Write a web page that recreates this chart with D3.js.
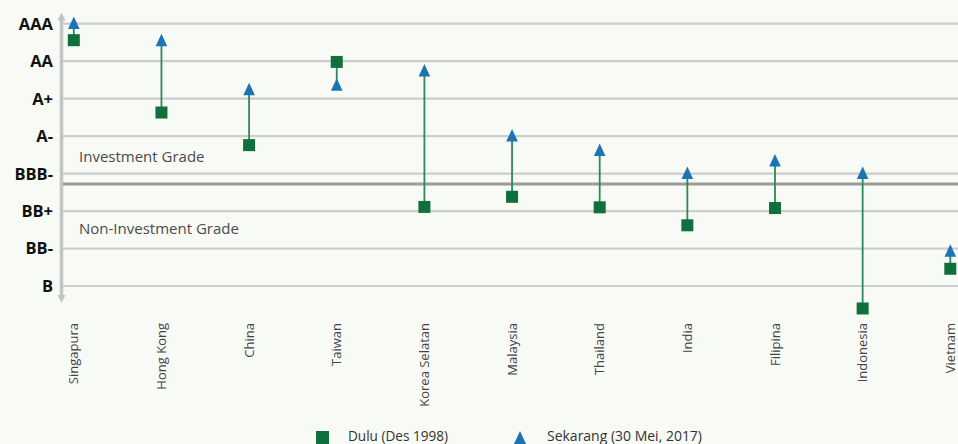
<!DOCTYPE html>
<html>
<head>
<meta charset="utf-8">
<script src="https://cdn.jsdelivr.net/npm/d3@7"></script>
<style>
  html, body { margin: 0; padding: 0; background: #f8faf6; }
  svg { display: block; }
</style>
</head>
<body>
<svg id="chart" width="958" height="444"></svg>
<script>
// ---- data ----
const countries = ["Singapura","Hong Kong","China","Taiwan","Korea Selatan","Malaysia","Thailand","India","Filipina","Indonesia","Vietnam"];
// rating position: 0 = AAA ... 7 = B
const dulu     = [0.44, 2.37, 3.24, 1.02, 4.89, 4.62, 4.90, 5.38, 4.92, 7.60, 6.54];
const sekarang = [0.03, 0.49, 1.80, 1.68, 1.30, 3.03, 3.42, 4.03, 3.70, 4.03, 6.11];
const ratingLabels = ["AAA","AA","A+","A-","BBB-","BB+","BB-","B"];
const gradeBoundary = 4.28;
const regionLabels = [
  {text: "Investment Grade", v: 3.55},
  {text: "Non-Investment Grade", v: 5.47}
];
const legendLabels = ["Dulu (Des 1998)", "Sekarang (30 Mei, 2017)"];

// ---- styles ----
const green = "#0f6f3d", lineGreen = "#2b8a57", blue = "#1a74b5";
const svg = d3.select("#chart");

const y = d3.scaleLinear().domain([0, 7]).range([23.7, 286]);
const x = d3.scalePoint().domain(countries).range([73.8, 950.3]);
const gridX0 = 62, gridX1 = 958;

// gridlines
svg.append("g").selectAll("line").data(ratingLabels).join("line")
  .attr("x1", gridX0).attr("x2", gridX1)
  .attr("y1", (d, i) => y(i)).attr("y2", (d, i) => y(i))
  .attr("stroke", "#cdcdcd").attr("stroke-width", 2.2);

// boundary line
svg.append("line")
  .attr("x1", gridX0).attr("x2", gridX1)
  .attr("y1", y(gradeBoundary)).attr("y2", y(gradeBoundary))
  .attr("stroke", "#9a9a9a").attr("stroke-width", 3);

// y axis with arrows
const axisX = 61.5;
svg.append("line").attr("x1", axisX).attr("x2", axisX).attr("y1", 18).attr("y2", 297)
  .attr("stroke", "#c4c4c4").attr("stroke-width", 3.5);
svg.append("path").attr("d", `M${axisX},12.5 L${axisX-4},20.5 L${axisX+4},20.5 Z`).attr("fill", "#c4c4c4");
svg.append("path").attr("d", `M${axisX},303 L${axisX-4},295 L${axisX+4},295 Z`).attr("fill", "#c4c4c4");

// y labels
svg.append("g").selectAll("text").data(ratingLabels).join("text")
  .attr("x", 53)
  .attr("y", (d, i) => Math.max(y(i), 20.5))
  .attr("dy", "0.36em")
  .attr("text-anchor", "end")
  .attr("font-family", "'Open Sans', sans-serif")
  .attr("font-weight", "bold")
  .attr("font-size", 16.5)
  .attr("fill", "#111")
  .text(d => d);

// region labels
svg.append("g").selectAll("text").data(regionLabels).join("text")
  .attr("x", 79)
  .attr("y", d => y(d.v))
  .attr("dy", "0.36em")
  .attr("font-family", "'Open Sans', sans-serif")
  .attr("font-size", 15)
  .attr("fill", "#4a4a4a")
  .text(d => d.text);

// x labels
svg.append("g").selectAll("text").data(countries).join("text")
  .attr("transform", d => `translate(${x(d)},323) rotate(-90)`)
  .attr("dy", "0.36em")
  .attr("text-anchor", "end")
  .attr("font-family", "'Open Sans', sans-serif")
  .attr("font-size", 13)
  .attr("fill", "#444")
  .text(d => d);

// connecting lines
svg.append("g").selectAll("line").data(countries).join("line")
  .attr("x1", d => x(d)).attr("x2", d => x(d))
  .attr("y1", (d, i) => y(dulu[i])).attr("y2", (d, i) => y(sekarang[i]))
  .attr("stroke", lineGreen).attr("stroke-width", 1.8);

// squares (Dulu)
const sq = 12;
svg.append("g").selectAll("rect").data(countries).join("rect")
  .attr("x", d => x(d) - sq / 2)
  .attr("y", (d, i) => y(dulu[i]) - sq / 2)
  .attr("width", sq).attr("height", sq)
  .attr("fill", green);

// triangles (Sekarang)
const tri = "M0,-8.3 L-5.8,4.2 L5.8,4.2 Z";
svg.append("g").selectAll("path").data(countries).join("path")
  .attr("transform", (d, i) => `translate(${x(d)},${y(sekarang[i])})`)
  .attr("d", tri)
  .attr("fill", blue);

// legend
const lg = svg.append("g");
lg.append("rect").attr("x", 316).attr("y", 431).attr("width", 13).attr("height", 13).attr("fill", green);
lg.append("path").attr("transform", "translate(520,440)").attr("d", "M0,-9 L-7,6 L7,6 Z").attr("fill", blue);
lg.selectAll("text").data(legendLabels).join("text")
  .attr("x", (d, i) => i === 0 ? 348 : 547)
  .attr("y", 441)
  .attr("font-family", "'Liberation Sans Narrow', 'Open Sans', sans-serif")
  .attr("font-size", 14.5)
  .attr("fill", "#333")
  .attr("textLength", (d, i) => i === 0 ? 100 : 155)
  .attr("lengthAdjust", "spacingAndGlyphs")
  .text(d => d);
</script>
</body>
</html>
